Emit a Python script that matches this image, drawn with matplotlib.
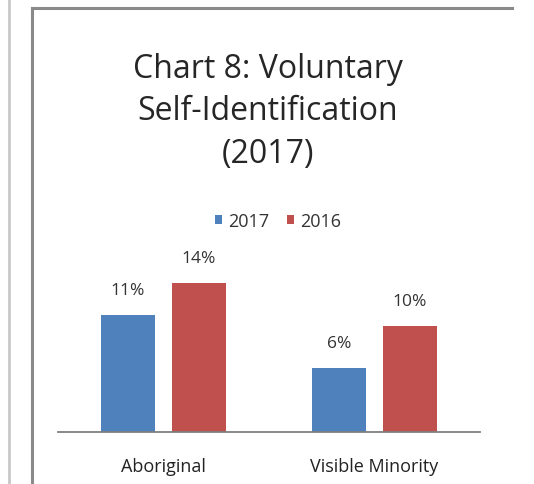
import matplotlib
matplotlib.use("Agg")
import matplotlib.pyplot as plt
from matplotlib.lines import Line2D
import numpy as np

plt.rcParams['font.family'] = ['Open Sans', 'DejaVu Sans']

categories = ['Aboriginal', 'Visible Minority']
series_names = ['2017', '2016']
values_2017 = [11, 6]
values_2016 = [14, 10]
colors = ['#4F81BD', '#C0504D']

W, H = 534, 485
fig = plt.figure(figsize=(W / 100, H / 100), dpi=100)
fig.patch.set_facecolor('white')

# plot area in pixels: x 58..480, y 250..433
ax = fig.add_axes([58 / W, 1 - 433 / H, 422 / W, 183 / H])
ax.set_facecolor('white')

x = np.arange(len(categories))
bw = 0.256
off = 0.168
bars1 = ax.bar(x - off, values_2017, bw, color=colors[0], label=series_names[0])
bars2 = ax.bar(x + off, values_2016, bw, color=colors[1], label=series_names[1])

for bars, vals in ((bars1, values_2017), (bars2, values_2016)):
    for b, v in zip(bars, vals):
        ax.annotate(f'{v}%', (b.get_x() + b.get_width() / 2, v),
                    xytext=(0, 18), textcoords='offset points',
                    ha='center', va='center', fontsize=12.5, color='#333333')

ax.set_xlim(-0.5, 1.5)
ax.set_ylim(0, 17.2)
ax.set_yticks([])
ax.set_xticks(x)
ax.set_xticklabels(categories, fontsize=13, color='#222222')
ax.tick_params(axis='x', length=0, pad=18)
for s in ('top', 'right', 'left'):
    ax.spines[s].set_visible(False)
ax.spines['bottom'].set_color('#7f7f7f')
ax.spines['bottom'].set_linewidth(1.3)

# title
title_lines = ['Chart 8: Voluntary', 'Self-Identification', '(2017)']
for line, ypix in zip(title_lines, (70, 112, 155)):
    fig.text(268 / W, 1 - ypix / H, line, ha='center', va='center',
             fontsize=23, color='#262626')

# legend
leg = fig.legend(handles=[bars1, bars2], labels=series_names,
                 loc='center', bbox_to_anchor=(278 / W, 1 - 222 / H),
                 ncol=2, frameon=False, fontsize=13, handlelength=0.4,
                 handleheight=0.4, handletextpad=0.3, columnspacing=1.0)
for t in leg.get_texts():
    t.set_color('#333333')

# frame decorations
fig.add_artist(Line2D([8.5 / W, 8.5 / W], [0, 1], color='#c8c8c8', lw=2))
fig.add_artist(Line2D([31.5 / W, 31.5 / W], [0, 1 - 9 / H], color='#8a8a8a', lw=2.2))
fig.add_artist(Line2D([31.5 / W, 512 / W], [1 - 9 / H, 1 - 9 / H], color='#8a8a8a', lw=2.2))

fig.savefig('out.png', dpi=100, facecolor='white')
